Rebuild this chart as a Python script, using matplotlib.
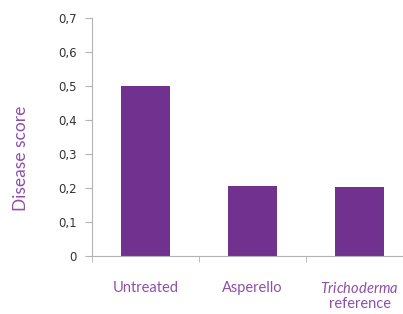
import numpy as np
import matplotlib.pyplot as plt
from matplotlib.ticker import FixedLocator

# data
categories = ['Untreated', 'Asperello', r'$\mathit{Trichoderma}$' + '\nreference']
scores = [0.50, 0.205, 0.202]
yticks = [0, 0.1, 0.2, 0.3, 0.4, 0.5, 0.6, 0.7]

bar_color = '#70318f'
label_color = '#8d50a9'
axis_color = '#b3b3b3'

plt.rcParams['mathtext.fontset'] = 'custom'
plt.rcParams['mathtext.it'] = 'Lato:italic'
plt.rcParams['mathtext.rm'] = 'Lato'

fig = plt.figure(figsize=(4.03, 3.14), dpi=100)
ax = fig.add_axes([0.228, 0.185, 0.797, 0.758])

x = np.arange(len(categories))
ax.bar(x, scores, width=0.46, color=bar_color)

ax.set_xlim(-0.5, 2.5)
ax.set_ylim(0, 0.7)
ax.set_yticks(yticks)
ax.set_yticklabels([('%g' % v).replace('.', ',') for v in yticks],
                   fontsize=8.5, color='#333333')
ax.set_xticks(x)
ax.set_xticklabels(categories, fontsize=10.5, color=label_color,
                   family='Lato', linespacing=1.1)
ax.xaxis.set_minor_locator(FixedLocator([-0.5, 0.5, 1.5, 2.5]))
ax.tick_params(axis='x', which='major', length=0, pad=18)
ax.tick_params(axis='x', which='minor', length=4, color=axis_color)
ax.tick_params(axis='y', length=5, color=axis_color, pad=6)

ax.set_ylabel('Disease score', fontsize=12.5, color=label_color,
              family='Lato')
ax.yaxis.set_label_coords(-0.195, 0.41)

for s in ['top', 'right']:
    ax.spines[s].set_visible(False)
for s in ['left', 'bottom']:
    ax.spines[s].set_color(axis_color)

fig.savefig('out.png', dpi=100)
